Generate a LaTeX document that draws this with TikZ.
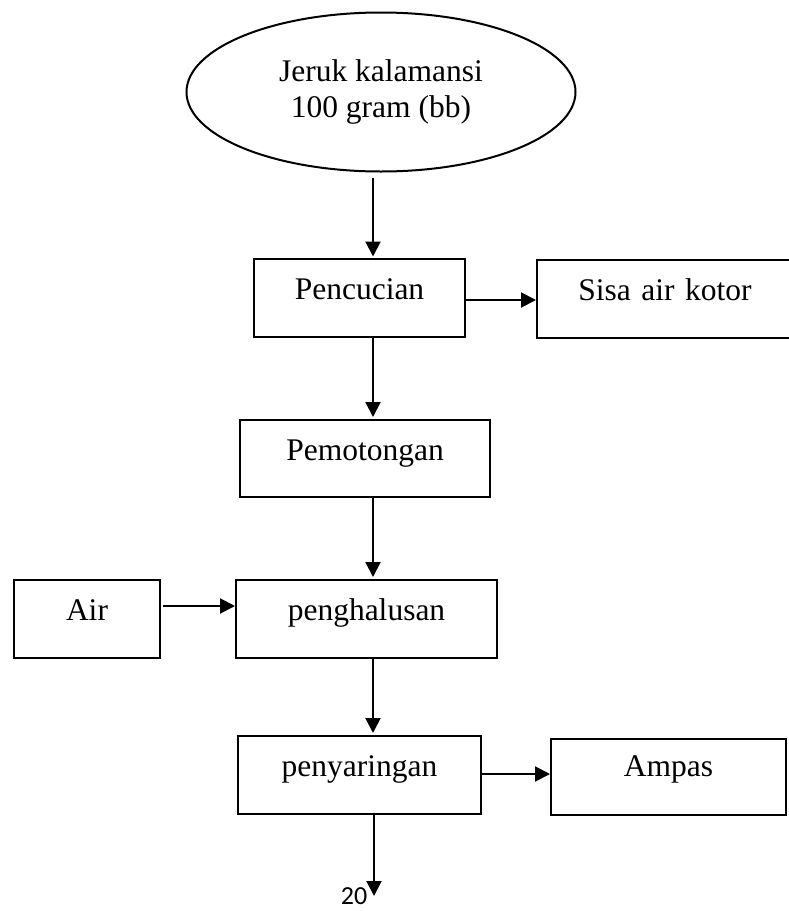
\documentclass[tikz,border=0pt]{standalone}
\usepackage{fontspec}
\setmainfont{Liberation Serif}
\newfontfamily\pagenumfont{Carlito}
\usetikzlibrary{arrows.meta,shapes.geometric}

\begin{document}
\begin{tikzpicture}[x=1pt,y=-1pt,
  every node/.style={font=\fontsize{31.5}{36}\selectfont},
  stepbox/.style={draw, line width=2pt, rectangle, inner sep=0pt,
    align=center, text height=40pt, anchor=north west},
  startoval/.style={draw, line width=2pt, ellipse, inner sep=0pt,
    align=center, minimum width=389pt, minimum height=159pt},
  arr/.style={line width=2pt, -{Triangle[length=15pt,width=15pt]}}]

\useasboundingbox (0,0) rectangle (788,911);

% start of the process
\node[startoval] (jeruk) at (381,92) {Jeruk kalamansi\\100 gram (bb)};

% process steps and side streams
\node[stepbox, text width=211pt, text depth=38pt] (pencucian) at (253,258) {Pencucian};
\node[stepbox, text width=256pt, text depth=38pt] (sisa) at (536,259) {Sisa air kotor\hspace*{20pt}};
\node[stepbox, text width=250pt, text depth=37pt] (pemotongan) at (239,419) {Pemotongan};
\node[stepbox, text width=146pt, text depth=38pt] (air) at (13,579) {Air};
\node[stepbox, text width=261pt, text depth=38pt] (penghalusan) at (235,579) {penghalusan};
\node[stepbox, text width=243pt, text depth=38pt] (penyaringan) at (237,735) {penyaringan};
\node[stepbox, text width=235pt, text height=37pt, text depth=39pt] (ampas) at (550,738) {Ampas};

\coordinate (out) at (374,896);
\node[font=\pagenumfont\fontsize{26}{30}\selectfont, anchor=base, inner sep=0pt] (pagenum) at (354,904) {20};

% main flow
\draw[arr, shorten <=5pt, shorten >=1.5pt] (jeruk.south -| 373,0) -- (pencucian.north -| 373,0);
\draw[arr, shorten >=2pt] (pencucian.south -| 373,0) -- (pemotongan.north -| 373,0);
\draw[arr, shorten >=2pt] (pemotongan.south -| 373,0) -- (penghalusan.north -| 373,0);
\draw[arr, shorten >=2pt] (penghalusan.south -| 373,0) -- (penyaringan.north -| 373,0);
\draw[arr] (penyaringan.south -| out) -- (out);

% side streams
\draw[arr] (pencucian.east |- 0,300) -- (sisa.west |- 0,300);
\draw[arr, shorten <=2pt] (air.east |- 0,606) -- (penghalusan.west |- 0,606);
\draw[arr] (penyaringan.east |- 0,774) -- (ampas.west |- 0,774);

\end{tikzpicture}
\end{document}
